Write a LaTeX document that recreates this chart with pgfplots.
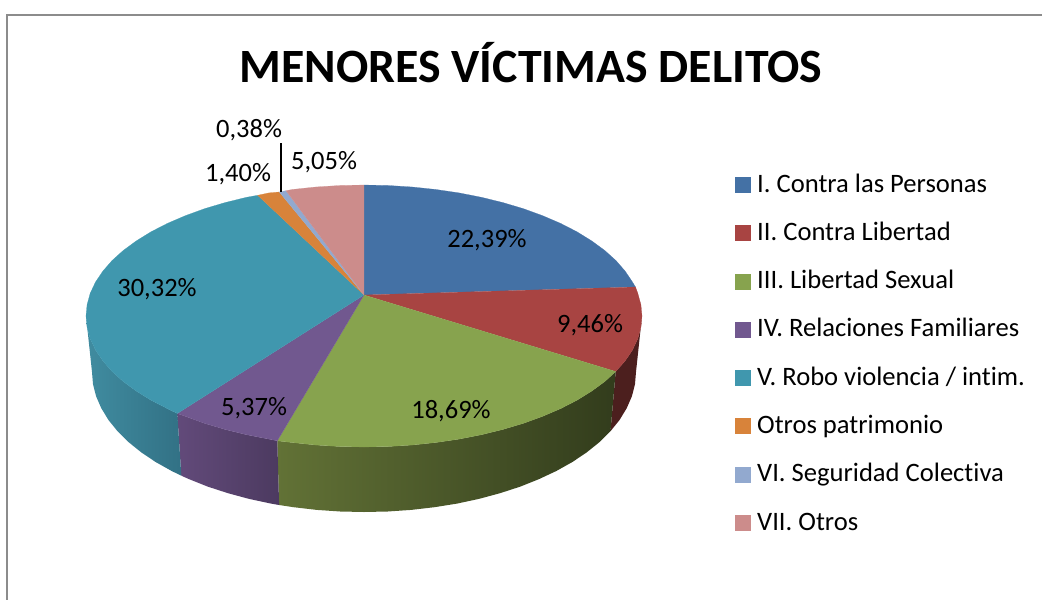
\documentclass[border=0pt]{standalone}
\usepackage{pgfplots}
\pgfplotsset{compat=1.18}
\usepackage{fontspec}
\setmainfont[Ligatures=NoCommon]{Carlito}
\definecolor{cblue}{RGB}{68,113,165}
\definecolor{cred}{RGB}{168,68,66}
\definecolor{cgreen}{RGB}{135,163,78}
\definecolor{cpurple}{RGB}{113,88,143}
\definecolor{cteal}{RGB}{64,151,174}
\definecolor{corange}{RGB}{216,131,58}
\definecolor{clb}{RGB}{146,169,207}
\definecolor{cpink}{RGB}{204,140,139}
\definecolor{frameg}{RGB}{140,140,140}
\begin{document}
\begin{tikzpicture}
\path[use as bounding box] (0,0) rectangle (1042pt,600pt);
\begin{axis}[
  at={(0,0)},anchor=south west,
  scale only axis,width=1042pt,height=600pt,
  xmin=0,xmax=1042,ymin=0,ymax=600,y dir=reverse,
  hide axis,clip=false,
  legend cell align=left,
  legend image code/.code={\fill[#1] (0pt,-7pt) rectangle (15pt,8pt);},
  legend style={at={(axis cs:735,172)},anchor=north west,draw=none,fill=none,
    font=\fontsize{26.6}{30}\selectfont,row sep=22.3pt,inner sep=0pt,outer sep=0pt,
    /tikz/every odd column/.append style={column sep=7pt},
    nodes={inner sep=0pt,outer sep=0pt,text height=20pt,text depth=6pt}},
]
% frame
\addplot[forget plot,no marks,frameg,line width=2pt] coordinates {(1042,15) (7,15) (7,600)};
% sides
\addplot[forget plot,no marks,draw=none,left color=cred!45!black,right color=cred!45!black] coordinates {
 (642,316) (640.9,327.4) (637.8,338.7) (632.5,349.9) (625.2,360.8) (615.7,371.5) (610.5,431.2) (619.6,419.9) (626.7,408.2) (631.9,396.3) (635,384.2) (636,372)};
\addplot[forget plot,no marks,draw=none,left color={rgb,255:red,98;green,114;blue,54},middle color={rgb,255:red,68;green,82;blue,38},right color={rgb,255:red,50;green,60;blue,28}] coordinates {
 (615.7,371.5) (604.8,381.5) (591.7,391.1) (577,400.2) (560.6,408.6) (542.7,416.3) (523.5,423.3) (503,429.4) (481.5,434.7) (459.1,439.1) (435.9,442.5) (412.3,445) (388.2,446.5) (364,447) (339.8,446.5) (315.7,445) (292.1,442.5) (277.3,440.8)
 (279.1,505) (293.6,507.2) (316.8,509.9) (340.3,511.5) (364,512) (387.7,511.5) (411.2,509.9) (434.4,507.2) (457,503.6) (478.9,498.9) (500,493.2) (520,486.7) (538.8,479.2) (556.3,471) (572.4,462) (586.8,452.3) (599.6,442) (610.5,431.2)};
\addplot[forget plot,no marks,draw=none,left color={rgb,255:red,98;green,74;blue,122},right color={rgb,255:red,76;green,58;blue,96}] coordinates {
 (277.3,440.8) (268.9,439.1) (246.5,434.7) (225,429.4) (204.5,423.3) (185.3,416.3) (177.3,413.5)
 (181.3,475.7) (189.2,479.2) (208,486.7) (228,493.2) (249.1,498.9) (271,503.6) (279.1,505)};
\addplot[forget plot,no marks,draw=none,left color={rgb,255:red,64;green,140;blue,160},right color={rgb,255:red,50;green,113;blue,133}] coordinates {
 (177.3,413.5) (167.4,408.6) (151,400.2) (136.3,391.1) (123.2,381.5) (112,371.4) (102.8,360.8) (95.5,349.9) (90.2,338.7) (87.1,327.4) (86,316)
 (92,372) (93,384.2) (96.1,396.3) (101.3,408.2) (108.4,419.9) (117.5,431.2) (128.4,442) (141.2,452.3) (155.6,462) (171.7,471) (181.3,475.7)};
% tops
\addplot[no marks,draw=cblue,line width=.2pt,fill=cblue] coordinates {
 (364,295) (364,185) (388.2,185.5) (412.3,187) (435.9,189.5) (459.1,192.9) (481.5,197.3) (503,202.6) (523.5,208.7) (542.7,215.7) (560.6,223.4) (577,231.8) (591.7,240.9) (604.8,250.5) (616,260.6) (625.2,271.2) (632.5,282.1) (635.5,287)};
\addlegendentry{I. Contra las Personas}
\addplot[no marks,draw=cred,line width=.2pt,fill=cred] coordinates {
 (364,295) (635.5,287) (637.8,293.3) (640.9,304.6) (642,316) (640.9,327.4) (637.8,338.7) (632.5,349.9) (625.2,360.8) (615.7,371.5)};
\addlegendentry{II. Contra Libertad}
\addplot[no marks,draw=cgreen,line width=.2pt,fill=cgreen] coordinates {
 (364,295) (615.7,371.5) (604.8,381.5) (591.7,391.1) (577,400.2) (560.6,408.6) (542.7,416.3) (523.5,423.3) (503,429.4) (481.5,434.7) (459.1,439.1) (435.9,442.5) (412.3,445) (388.2,446.5) (364,447) (339.8,446.5) (315.7,445) (292.1,442.5) (277.3,440.8)};
\addlegendentry{III. Libertad Sexual}
\addplot[no marks,draw=cpurple,line width=.2pt,fill=cpurple] coordinates {
 (364,295) (277.3,440.8) (268.9,439.1) (246.5,434.7) (225,429.4) (204.5,423.3) (185.3,416.3) (177.3,413.5)};
\addlegendentry{IV. Relaciones Familiares}
\addplot[no marks,draw=cteal,line width=.2pt,fill=cteal] coordinates {
 (364,295) (177.3,413.5) (167.4,408.6) (151,400.2) (136.3,391.1) (123.2,381.5) (112,371.4) (102.8,360.8) (95.5,349.9) (90.2,338.7) (87.1,327.4) (86,316) (87.1,304.6) (90.2,293.3) (95.5,282.1) (102.8,271.2) (112,260.6) (123.2,250.5) (136.3,240.9) (151,231.8) (167.4,223.4) (185.3,215.7) (204.5,208.7) (225,202.6) (246.5,197.3) (257.7,195.3)};
\addlegendentry{V. Robo violencia / intim.}
\addplot[no marks,draw=corange,line width=.2pt,fill=corange] coordinates {
 (364,295) (257.7,195.3) (268.9,192.9) (279.3,192)};
\addlegendentry{Otros patrimonio}
\addplot[no marks,draw=clb,line width=.2pt,fill=clb] coordinates {
 (364,295) (279.3,192) (286,190.7)};
\addlegendentry{VI. Seguridad Colectiva}
\addplot[no marks,draw=cpink,line width=.2pt,fill=cpink] coordinates {
 (364,295) (286,190.7) (292.1,189.5) (315.7,187) (339.8,185.5) (364,185)};
\addlegendentry{VII. Otros}
% leader line
\addplot[forget plot,no marks,black,line width=2pt] coordinates {(281.3,143) (281.3,192)};
\node[font=\bfseries\fontsize{47.8}{50}\selectfont] at (axis cs:531,63) {MENORES VÍCTIMAS DELITOS};
\begin{scope}[every node/.style={font=\fontsize{26.5}{30}\selectfont}]
\node at (axis cs:487,240) {22,39\%};
\node at (axis cs:590,325) {9,46\%};
\node at (axis cs:451,411) {18,69\%};
\node at (axis cs:254,408) {5,37\%};
\node at (axis cs:157,289) {30,32\%};
\node at (axis cs:238,174) {1,40\%};
\node at (axis cs:249,130) {0,38\%};
\node at (axis cs:324,162) {5,05\%};
\end{scope}
\end{axis}
\end{tikzpicture}
\end{document}
